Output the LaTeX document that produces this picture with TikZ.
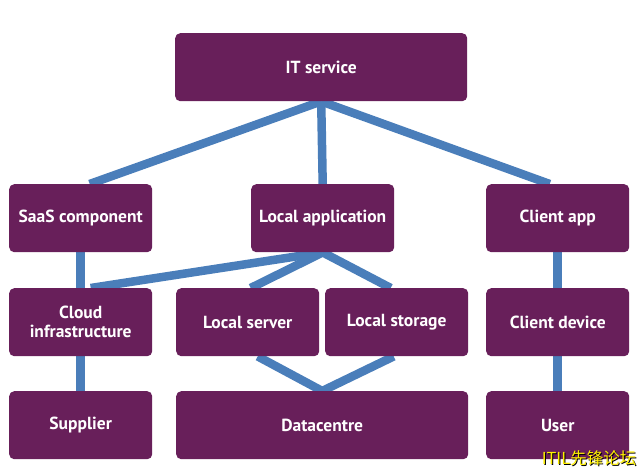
\documentclass[tikz,border=0pt]{standalone}
\usepackage{fontspec}
\setmainfont{PT Sans}
\newfontfamily\cjk{Noto Sans CJK SC}
\usetikzlibrary{backgrounds}
\definecolor{boxpurple}{RGB}{104,31,90}
\definecolor{linkblue}{RGB}{74,126,186}
\definecolor{wmyellow}{RGB}{255,240,0}
\begin{document}
\begin{tikzpicture}[x=1pt,y=-1pt,
  box/.style={fill=boxpurple, rounded corners=5pt, text=white,
    font=\bfseries\fontsize{17.5}{19}\selectfont, align=center,
    inner sep=0pt, anchor=north west},
  wide/.style={minimum width=292pt, minimum height=68pt},
  narrow/.style={minimum width=143pt, minimum height=68pt},
  link/.style={draw=linkblue, line width=8.5pt},
  wm/.style={font=\cjk\fontsize{16.5}{18}\selectfont, inner sep=0pt}]
\useasboundingbox (0,0) rectangle (639,470);
\node[box, wide]   (it)     at (175,33)  {IT service};
\node[box, narrow] (saas)   at (9,184)   {SaaS component};
\node[box, narrow] (locapp) at (251,184) {Local application};
\node[box, narrow] (capp)   at (486,184) {Client app};
\node[box, narrow] (cloud)  at (9,288)   {Cloud\\infrastructure};
\node[box, narrow] (lserv)  at (176,288) {Local server};
\node[box, narrow] (lstor)  at (325,288) {Local storage};
\node[box, narrow] (cdev)   at (486,288) {Client device};
\node[box, narrow] (sup)    at (9,391)   {Supplier};
\node[box, wide]   (dc)     at (176,391) {Datacentre};
\node[box, narrow] (user)   at (486,391) {User};
\begin{pgfonlayer}{background}
  \draw[link] (it.south) -- ([xshift=9pt]saas.north);
  \draw[link] (it.south) -- (locapp.north);
  \draw[link] (it.south) -- ([xshift=-8pt]capp.north);
  \draw[link] (saas.south) -- (cloud.north);
  \draw[link] (cloud.south) -- (sup.north);
  \draw[link] (capp.south) -- (cdev.north);
  \draw[link] (cdev.south) -- (user.north);
  \draw[link] (locapp.south) -- ([xshift=10pt]cloud.north);
  \draw[link] (locapp.south) -- ([xshift=3pt]lserv.north);
  \draw[link] (locapp.south) -- ([xshift=-6pt]lstor.north);
  \draw[link] ([xshift=10pt]lserv.south) -- (dc.north);
  \draw[link] ([xshift=-3pt]lstor.south) -- (dc.north);
\end{pgfonlayer}
\node[wm, text=black] (wmshadow) at (590,459) {ITIL先锋论坛};
\node[wm, text=wmyellow] (wmtext) at (589,458) {ITIL先锋论坛};
\end{tikzpicture}
\end{document}
